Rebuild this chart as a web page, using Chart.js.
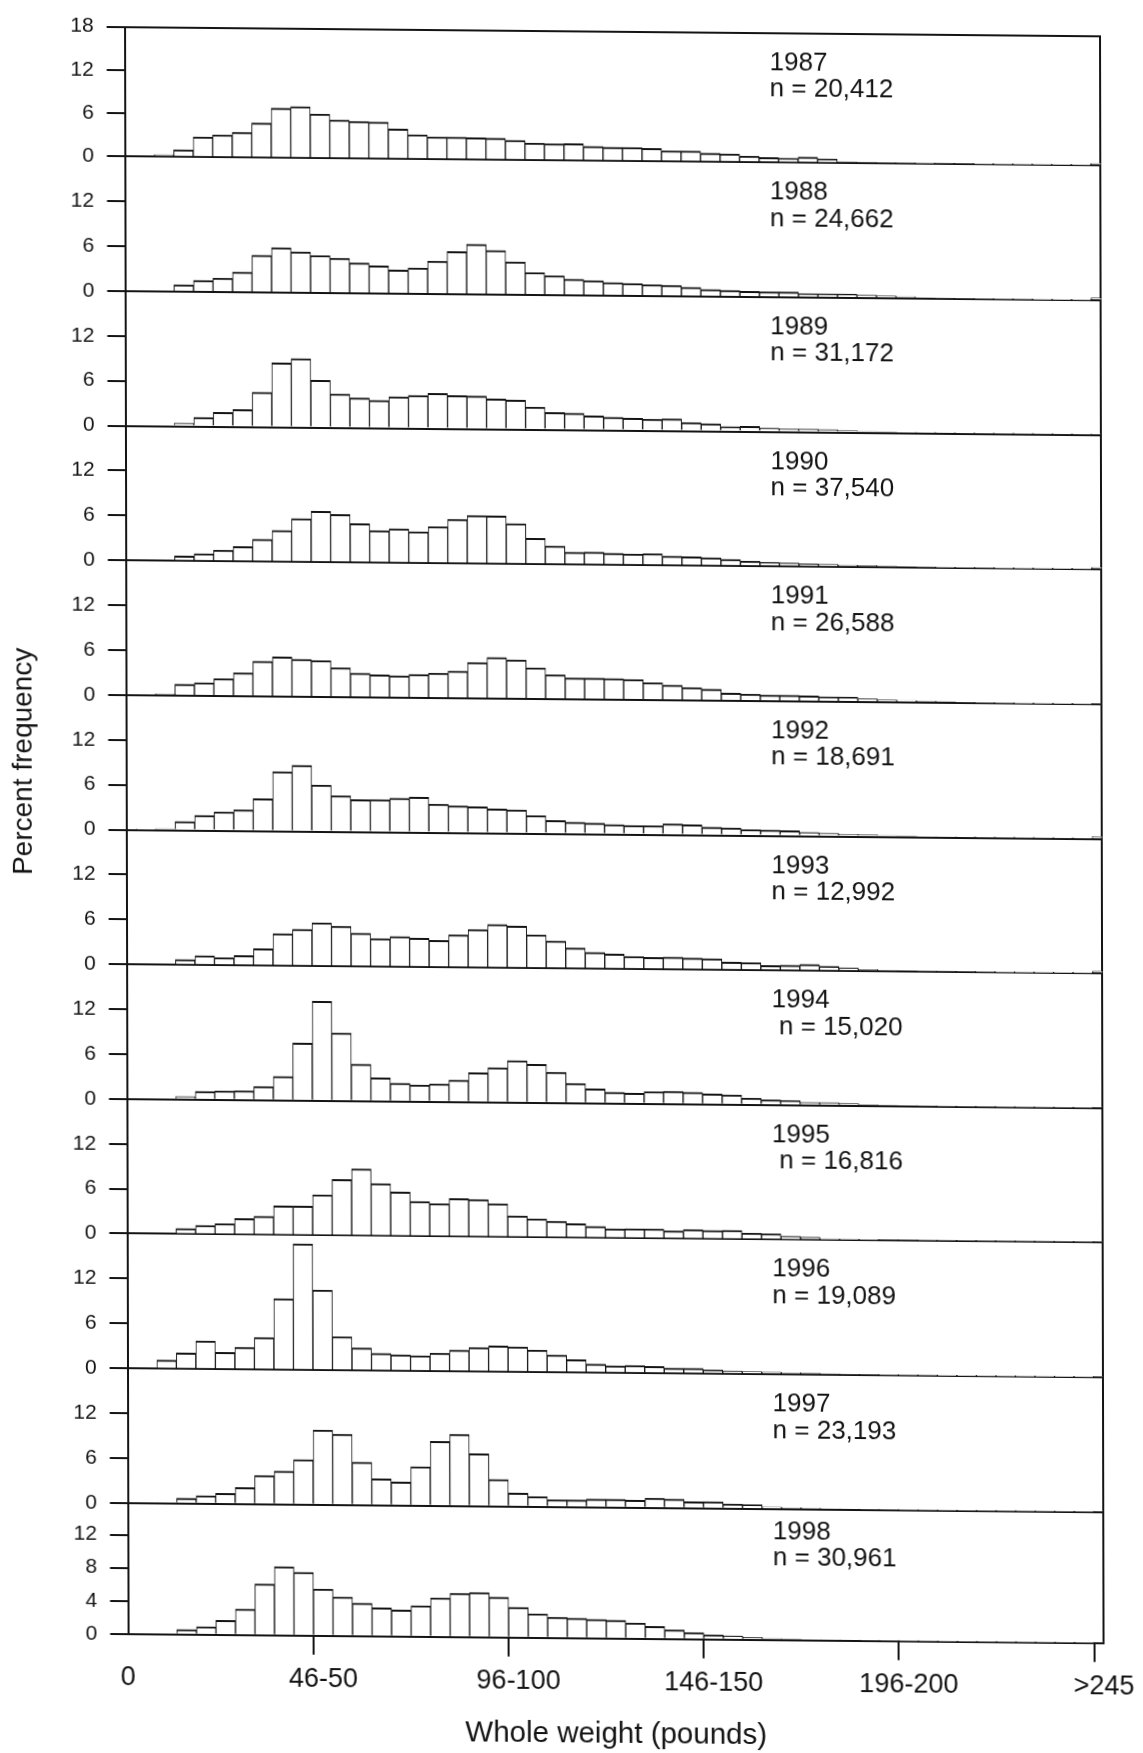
<!DOCTYPE html>
<html>
<head>
<meta charset="utf-8">
<title>Whole weight frequency, 1987-1998</title>
<script src="https://cdn.jsdelivr.net/npm/chart.js@4.4.1/dist/chart.umd.min.js"></script>
<style>
  html, body { margin: 0; padding: 0; background: #ffffff; overflow: hidden; }
  #wrap { position: relative; width: 1143px; height: 1753px; }
  /* the printed page sits slightly askew */
  canvas { display: block; transform-origin: 0 0; transform: matrix(1, 0.0094, 0.0022, 1, 0, 0); }
</style>
</head>
<body>
<div id="wrap"><canvas id="chart" width="1143" height="1753"></canvas></div>
<script>
// 5-pound weight classes (category axis)
const weightClasses = [
  '0', '1-5', '6-10', '11-15', '16-20', '21-25', '26-30', '31-35', '36-40', '41-45',
  '46-50', '51-55', '56-60', '61-65', '66-70', '71-75', '76-80', '81-85', '86-90', '91-95',
  '96-100', '101-105', '106-110', '111-115', '116-120', '121-125', '126-130', '131-135', '136-140', '141-145',
  '146-150', '151-155', '156-160', '161-165', '166-170', '171-175', '176-180', '181-185', '186-190', '191-195',
  '196-200', '201-205', '206-210', '211-215', '216-220', '221-225', '226-230', '231-235', '236-240', '241-245',
  '>245'
];
const labelledClasses = ['0', '46-50', '96-100', '146-150', '196-200', '>245'];

const years = ['1987', '1988', '1989', '1990', '1991', '1992', '1993', '1994', '1995', '1996', '1997', '1998'];
const sampleSizes = ['n = 20,412', 'n = 24,662', 'n = 31,172', 'n = 37,540', 'n = 26,588', 'n = 18,691',
                     'n = 12,992', ' n = 15,020', ' n = 16,816', 'n = 19,089', 'n = 23,193', 'n = 30,961'];

// Percent frequency by weight class, one array per year
const f1987 = [0, 0, 0.3, 1.0, 2.8, 3.1, 3.5, 4.8, 6.9, 7.15,
  6.15, 5.35, 5.15, 5.1, 4.15, 3.4, 3.1, 3.1, 3.05, 3.0,
  2.75, 2.4, 2.3, 2.35, 2.0, 1.9, 1.9, 1.8, 1.5, 1.5,
  1.2, 1.15, 0.85, 0.7, 0.6, 0.8, 0.55, 0.2, 0.15, 0.12,
  0.1, 0.08, 0.1, 0.1, 0.05, 0.03, 0.03, 0.03, 0.03, 0.03, 0.3];
const f1988 = [0, 0, 0, 0.9, 1.5, 1.85, 2.7, 4.95, 6.0, 5.45,
  5.0, 4.65, 4.05, 3.7, 3.15, 3.45, 4.4, 5.7, 6.7, 5.9,
  4.4, 3.0, 2.6, 2.15, 2.0, 1.75, 1.65, 1.5, 1.45, 1.2,
  0.95, 0.85, 0.75, 0.7, 0.7, 0.5, 0.5, 0.5, 0.4, 0.3,
  0.25, 0.12, 0.1, 0.08, 0.06, 0.05, 0.04, 0.03, 0.03, 0.03, 0.3];
const f1989 = [0, 0, 0, 0.4, 1.2, 1.9, 2.3, 4.65, 8.6, 9.2,
  6.3, 4.5, 4.0, 3.7, 4.2, 4.4, 4.7, 4.45, 4.4, 4.05,
  3.9, 3.0, 2.3, 2.25, 1.9, 1.75, 1.65, 1.55, 1.6, 1.15,
  1.0, 0.65, 0.7, 0.5, 0.4, 0.4, 0.35, 0.25, 0.2, 0.15,
  0.1, 0.08, 0.06, 0.05, 0.04, 0.03, 0.03, 0.03, 0.03, 0.03, 0.1];
const f1990 = [0, 0, 0, 0.65, 1.0, 1.5, 2.0, 3.0, 4.2, 5.8,
  6.8, 6.4, 5.2, 4.3, 4.55, 4.2, 4.9, 5.9, 6.45, 6.4,
  5.4, 3.45, 2.45, 1.65, 1.7, 1.55, 1.5, 1.55, 1.25, 1.2,
  1.1, 0.9, 0.7, 0.55, 0.5, 0.4, 0.35, 0.3, 0.25, 0.2,
  0.12, 0.1, 0.08, 0.06, 0.05, 0.04, 0.03, 0.03, 0.03, 0.03, 0.3];
const f1991 = [0, 0, 0.2, 1.5, 1.75, 2.3, 3.1, 4.7, 5.3, 5.0,
  4.85, 3.9, 3.2, 3.0, 2.9, 3.1, 3.3, 3.6, 4.8, 5.5,
  5.2, 4.15, 3.25, 2.85, 2.85, 2.8, 2.7, 2.3, 2.0, 1.7,
  1.5, 1.0, 0.9, 0.8, 0.8, 0.75, 0.65, 0.65, 0.45, 0.3,
  0.25, 0.2, 0.15, 0.1, 0.05, 0.04, 0.03, 0.03, 0.03, 0.03, 0.1];
const f1992 = [0, 0.05, 0.2, 1.15, 2.0, 2.5, 2.8, 4.3, 7.95, 8.8,
  6.2, 4.8, 4.3, 4.35, 4.55, 4.7, 3.8, 3.6, 3.5, 3.25,
  3.15, 2.4, 1.75, 1.55, 1.45, 1.3, 1.2, 1.2, 1.45, 1.35,
  1.05, 1.0, 0.8, 0.75, 0.7, 0.5, 0.4, 0.3, 0.25, 0.2,
  0.15, 0.1, 0.1, 0.06, 0.05, 0.04, 0.03, 0.03, 0.03, 0.03, 0.3];
const f1993 = [0, 0, 0, 0.7, 1.25, 1.0, 1.3, 2.25, 4.3, 4.9,
  5.8, 5.35, 4.45, 3.75, 4.05, 3.85, 3.6, 4.35, 5.1, 5.8,
  5.6, 4.45, 3.65, 2.75, 2.2, 2.0, 1.7, 1.6, 1.65, 1.55,
  1.5, 1.05, 1.0, 0.65, 0.7, 0.85, 0.6, 0.45, 0.25, 0.15,
  0.12, 0.1, 0.1, 0.08, 0.05, 0.04, 0.03, 0.03, 0.03, 0.03, 0.3];
const f1994 = [0, 0, 0, 0.4, 1.1, 1.2, 1.25, 1.85, 3.2, 7.7,
  13.3, 9.1, 4.95, 3.15, 2.45, 2.25, 2.4, 2.95, 3.95, 4.65,
  5.6, 5.15, 4.1, 2.65, 1.95, 1.5, 1.4, 1.65, 1.7, 1.6,
  1.4, 1.3, 0.9, 0.7, 0.65, 0.4, 0.4, 0.3, 0.2, 0.15,
  0.1, 0.08, 0.06, 0.05, 0.04, 0.03, 0.03, 0.03, 0.03, 0.03, 0.1];
const f1995 = [0, 0, 0, 0.75, 1.2, 1.45, 2.15, 2.5, 3.9, 3.9,
  5.45, 7.5, 8.95, 7.0, 5.9, 4.65, 4.4, 5.1, 5.0, 4.45,
  2.85, 2.5, 2.2, 1.9, 1.55, 1.25, 1.3, 1.3, 1.05, 1.25,
  1.15, 1.2, 0.85, 0.8, 0.5, 0.4, 0.2, 0.2, 0.15, 0.1,
  0.1, 0.08, 0.06, 0.05, 0.04, 0.03, 0.03, 0.03, 0.03, 0.03, 0.1];
const f1996 = [0, 0, 1.15, 2.1, 3.75, 2.25, 2.95, 4.3, 9.5, 16.85,
  10.7, 4.5, 3.0, 2.3, 2.15, 2.05, 2.4, 2.85, 3.2, 3.45,
  3.35, 2.95, 2.3, 1.7, 1.15, 0.95, 1.0, 0.9, 0.7, 0.7,
  0.5, 0.4, 0.35, 0.3, 0.25, 0.2, 0.15, 0.1, 0.08, 0.06,
  0.05, 0.04, 0.03, 0.03, 0.03, 0.03, 0.03, 0.03, 0.03, 0.03, 0.1];
const f1997 = [0, 0, 0.1, 0.7, 1.05, 1.4, 2.2, 3.85, 4.45, 6.0,
  10.0, 9.45, 5.75, 3.55, 3.15, 5.2, 8.6, 9.6, 7.0, 3.6,
  1.8, 1.35, 0.95, 0.95, 1.1, 1.1, 1.0, 1.3, 1.2, 0.85,
  0.9, 0.6, 0.55, 0.25, 0.2, 0.15, 0.1, 0.1, 0.08, 0.06,
  0.05, 0.04, 0.03, 0.03, 0.03, 0.03, 0.03, 0.03, 0.03, 0.03, 0.1];
const f1998 = [0, 0, 0, 0.6, 0.95, 1.75, 3.15, 6.2, 8.3, 7.65,
  5.65, 4.7, 4.0, 3.45, 3.2, 3.75, 4.7, 5.3, 5.4, 4.85,
  3.65, 2.9, 2.5, 2.4, 2.3, 2.2, 1.9, 1.5, 1.1, 0.8,
  0.55, 0.45, 0.3, 0.2, 0.15, 0.12, 0.1, 0.1, 0.08, 0.06,
  0.05, 0.04, 0.03, 0.03, 0.03, 0.03, 0.03, 0.03, 0.03, 0.03, 0.1];

const frequencies = [f1987, f1988, f1989, f1990, f1991, f1992, f1993, f1994, f1995, f1996, f1997, f1998];

// y range, tick step and relative height of each panel (the last panel uses a finer scale)
const panelMax = [18, 18, 18, 18, 18, 18, 18, 18, 18, 18, 18, 15.84];
const panelStep = [6, 6, 6, 6, 6, 6, 6, 6, 6, 6, 6, 4];
const panelWeight = [0.963, 1, 1, 1, 1, 1, 1, 1, 1, 1, 1, 0.973];

const INK = '#141414';
const CLEAR = 'rgba(0,0,0,0)';
const FONT = '"Liberation Sans", Arial, Helvetica, sans-serif';
Chart.defaults.font.family = FONT;
Chart.defaults.color = INK;

const scales = {
  x: {
    type: 'category',
    labels: weightClasses,
    offset: false,
    position: 'bottom',
    z: 1,
    grid: {
      drawOnChartArea: false,
      drawTicks: true,
      tickLength: 19,
      tickWidth: 2,
      lineWidth: 2,
      tickColor: (c) => (c.index % 10 === 0 ? INK : CLEAR)
    },
    border: { display: true, color: INK, width: 2 },
    ticks: {
      autoSkip: false,
      maxRotation: 0,
      minRotation: 0,
      padding: 9,
      color: INK,
      font: { size: 27 },
      callback: (v, i) => (labelledClasses.includes(weightClasses[i]) ? weightClasses[i] : '')
    },
    title: {
      display: true,
      text: 'Whole weight (pounds)',
      color: INK,
      font: { size: 29.5 },
      padding: { top: 0, bottom: 6 }
    },
    afterFit: (s) => { s.height = 120.2; }
  },
  // right-hand edge of the frame
  frame: {
    type: 'linear',
    position: 'right',
    display: true,
    z: 1,
    grid: { display: false, drawTicks: false },
    ticks: { display: false },
    border: { display: true, color: INK, width: 2 },
    afterFit: (s) => { s.width = 0; }
  }
};

// One stacked y axis per year, 1987 on top
years.forEach((yr, i) => {
  scales['y' + i] = {
    type: 'linear',
    position: 'left',
    stack: 'panels',
    stackWeight: panelWeight[i],
    weight: years.length - i,
    min: 0,
    max: panelMax[i],
    z: 1,
    ticks: {
      stepSize: panelStep[i],
      includeBounds: false,
      autoSkip: false,
      padding: 13,
      color: INK,
      font: { size: 21 },
      callback: (v) => ((v === 18 && i > 0) ? null : String(v))
    },
    grid: {
      drawOnChartArea: true,
      drawTicks: true,
      tickLength: 18,
      lineWidth: 2,
      tickWidth: 2,
      tickColor: INK,
      color: (c) => (c.tick && (c.tick.value === 0 || (i === 0 && c.tick.value === 18)) ? INK : CLEAR)
    },
    border: { display: true, color: INK, width: 2 },
    title: i === 5 ? {
      display: true,
      text: 'Percent frequency',
      color: INK,
      font: { size: 28 },
      padding: { top: 5, bottom: 0 }
    } : { display: false },
    afterFit: (s) => { s.width = 124.6; }
  };
});

// Year and sample size printed in the upper right of each panel
const panelLabels = {
  id: 'panelLabels',
  afterDraw(chart) {
    const { ctx, chartArea } = chart;
    ctx.save();
    ctx.font = '26px ' + FONT;
    ctx.fillStyle = INK;
    ctx.textAlign = 'left';
    ctx.textBaseline = 'alphabetic';
    years.forEach((yr, i) => {
      const s = chart.scales['y' + i];
      const x = chartArea.left + 645;
      // the shorter bottom panel carries its label a little higher
      const y = s.top + (i === years.length - 1 ? 30 : 37);
      ctx.fillText(yr, x, y);
      ctx.fillText(sampleSizes[i], x, y + 26.5);
    });
    ctx.restore();
  }
};

new Chart(document.getElementById('chart'), {
  type: 'bar',
  data: {
    labels: weightClasses,
    datasets: years.map((yr, i) => ({
      label: yr,
      data: frequencies[i],
      xAxisID: 'x',
      yAxisID: 'y' + i,
      backgroundColor: '#ffffff',
      borderColor: INK,
      borderWidth: { top: 2, left: 1, right: 1, bottom: 0 },
      borderSkipped: 'start',
      barPercentage: 1,
      categoryPercentage: 1,
      grouped: false
    }))
  },
  options: {
    responsive: false,
    animation: false,
    devicePixelRatio: 1,
    layout: { padding: { left: 0, right: 42.7, top: 20.5, bottom: 0 } },
    plugins: {
      legend: { display: false },
      title: { display: false },
      tooltip: { enabled: false }
    },
    scales: scales
  },
  plugins: [panelLabels]
});
</script>
</body>
</html>
